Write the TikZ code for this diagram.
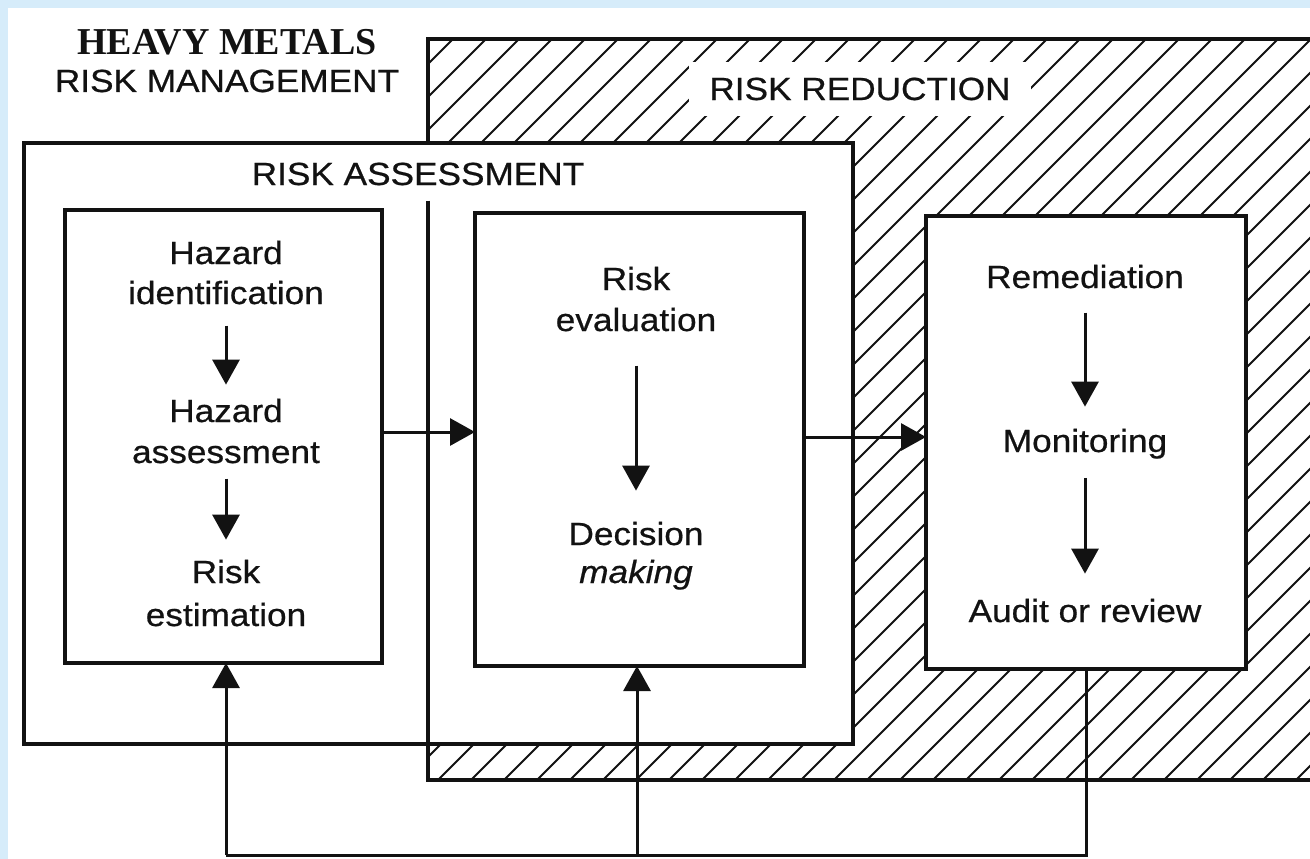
\documentclass[tikz,border=0pt]{standalone}
\usepackage{fontspec}
\newfontfamily\labelfont[FakeStretch=1.1,FakeBold=0.6]{Liberation Sans}
\newfontfamily\titlefont{Liberation Serif}
\usetikzlibrary{arrows.meta}
\definecolor{framebg}{RGB}{214,236,250}
\definecolor{ink}{RGB}{18,18,18}

\begin{document}
\begin{tikzpicture}[x=1pt,y=-1pt,
  boxline/.style={line width=3.2pt, draw=ink},
  panel/.style={boxline, fill=white, rectangle, inner sep=0pt, outer sep=0pt},
  txt/.style={font=\labelfont\fontsize{32}{40}\selectfont, inner sep=0pt, anchor=base, text=ink},
  heading/.style={txt, fill=white, inner xsep=20pt, inner ysep=16pt},
  flow/.style={line width=3pt, draw=ink, -{Triangle[length=25pt,width=27pt]}},
  link/.style={line width=3pt, draw=ink},
  hatchline/.style={line width=1.8pt, draw=ink}
]
\useasboundingbox (0,0) rectangle (1310,859);
\clip (0,0) rectangle (1310,859);

% page frame
\fill[framebg] (0,0) rectangle (1310,859);
\fill[white] (8,8) rectangle (1310,859);

% risk reduction: hatched region
\begin{scope}
  \clip (428,39) rectangle (1320,780);
  \foreach \c in {459,492,...,2120}
    \draw[hatchline] ({\c-30},30) -- ({\c-790},790);
\end{scope}
\draw[boxline] (1320,39) -- (428,39) -- (428,780) -- (1320,780);
\node[heading] (redlbl) at (860,100) {RISK REDUCTION};

% risk assessment frame
\node[panel, minimum width=829pt, minimum height=601pt] (assess) at (438.5,443.5) {};
\node[heading, inner ysep=15pt] (asslbl) at (418,185) {RISK ASSESSMENT};
\coordinate (redleft) at (428,744);
\draw[boxline] (asslbl.south -| redleft) -- (redleft);

% title
\node[font=\titlefont\bfseries\fontsize{38}{42}\selectfont, inner sep=0pt, anchor=base, text=ink] (title) at (227,55) {HEAVY METALS};
\node[txt] (mgmt) at (227,92) {RISK MANAGEMENT};

% stage boxes
\node[panel, minimum width=317pt, minimum height=453pt] (lbox) at (223.5,436.5) {};
\node[panel, minimum width=329pt, minimum height=453pt] (mbox) at (639.5,439.5) {};
\node[panel, minimum width=320pt, minimum height=453pt] (rbox) at (1086,442.5) {};

% left box steps
\node[txt] (hid1) at (226,264) {Hazard};
\node[txt] (hid2) at (226,304) {identification};
\node[txt] (has1) at (226,422) {Hazard};
\node[txt] (has2) at (226,463) {assessment};
\node[txt] (res1) at (226,583) {Risk};
\node[txt] (res2) at (226,626) {estimation};
\draw[flow, shorten <=21pt, shorten >=14pt] (hid2.south) -- (has1.north);
\draw[flow, shorten <=15pt, shorten >=20pt] (has2.south) -- (res1.north);

% middle box steps
\node[txt] (rev1) at (636,290) {Risk};
\node[txt] (rev2) at (636,331) {evaluation};
\node[txt] (dec1) at (636,545) {Decision};
\node[txt, font=\labelfont\itshape\fontsize{32}{40}\selectfont] (dec2) at (636,583) {making};
\draw[flow, shorten <=34pt, shorten >=31pt] (rev2.south) -- (dec1.north);

% right box steps
\node[txt] (rem) at (1085,288) {Remediation};
\node[txt] (mon) at (1085,452) {Monitoring};
\node[txt] (aud) at (1085,622) {Audit or review};
\draw[flow, shorten <=24pt, shorten >=22pt] (rem.south) -- (mon.north);
\draw[flow, shorten <=19pt, shorten >=25pt] (mon.south) -- (aud.north);

% links between stages
\coordinate (ya) at (0,432);
\coordinate (yb) at (0,437);
\draw[flow] (lbox.east |- ya) -- (mbox.west |- ya);
\draw[flow] (mbox.east |- yb) -- (rbox.west |- yb);

% feedback loop
\coordinate (fb) at (1086,855);
\coordinate (fl) at (226,855);
\coordinate (fm) at (637,855);
\draw[link] (rbox.south) -- (fb) -- (fl);
\draw[flow] (fl) -- (lbox.south -| fl);
\draw[flow] (fm) -- (mbox.south -| fm);
\end{tikzpicture}
\end{document}
